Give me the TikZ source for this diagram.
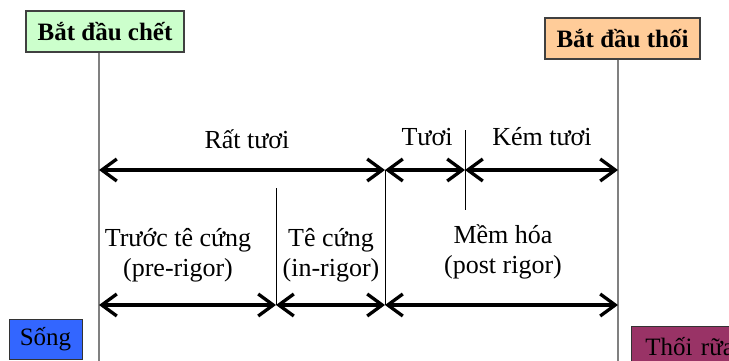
\documentclass[tikz,border=0pt]{standalone}
\usepackage{fontspec}
\setmainfont{Liberation Serif}
\usetikzlibrary{arrows.meta}
\definecolor{xanhnhat}{HTML}{CCFFCC}
\definecolor{camnhat}{HTML}{FFCC99}
\definecolor{xanhduong}{HTML}{3366FF}
\definecolor{tiado}{HTML}{993366}
\begin{document}
\begin{tikzpicture}[x=1pt,y=-1pt,
    mocbox/.style={draw=black!75,line width=1.2pt,inner sep=0pt,minimum height=41pt,
        font=\fontsize{25}{28}\selectfont\bfseries},
    trangthai/.style={draw=black!80,line width=0.8pt,inner sep=0pt,minimum height=40pt,
        font=\fontsize{25}{28}\selectfont},
    nhan/.style={font=\fontsize{26}{30}\selectfont},
    khoang/.style={line width=3.3pt,
        {Straight Barb[length=15pt,width=22pt]}-{Straight Barb[length=15pt,width=22pt]}},
    moc/.style={draw=gray,line width=1.6pt},
    vach/.style={line width=0.8pt}]

    \clip (0,0) rectangle (729,360);

        % cac moc chinh
        \node[mocbox,fill=xanhnhat,minimum width=158pt] (batdauchet) at (105,31.5) {Bắt đầu chết};
        \node[mocbox,fill=camnhat,minimum width=155pt] (batdauthoi) at (622.5,38.5) {Bắt đầu thối};
        \coordinate (chet) at (99,362);
        \coordinate (thoi) at (618,362);
        \draw[moc] (batdauchet.south -| chet) -- (chet);
        \draw[moc] (batdauthoi.south -| thoi) -- (thoi);

        % hang tren
        \coordinate (a1) at (99,170);
        \coordinate (a2) at (385,170);
        \coordinate (a3) at (465,170);
        \coordinate (a4) at (618,170);
        % hang duoi
        \coordinate (b1) at (99,305);
        \coordinate (b2) at (276,305);
        \coordinate (b3) at (385,305);
        \coordinate (b4) at (618,305);
        \coordinate (v1) at (276,188);
        \coordinate (v2) at (465,130);
        \coordinate (v3) at (465,210);

        \draw[vach] (v1) -- (b2);
        \draw[vach] (a2) -- (b3);
        \draw[vach] (v2) -- (v3);

        \draw[khoang] (a1) -- (a2);
        \draw[khoang] (a2) -- (a3);
        \draw[khoang] (a3) -- (a4);
        \draw[khoang] (b1) -- (b2);
        \draw[khoang] (b2) -- (b3);
        \draw[khoang] (b3) -- (b4);

        \node[nhan] (rattuoi) at (247,139) {Rất tươi};
        \node[nhan] (tuoi) at (427,137) {Tươi};
        \node[nhan] (kemtuoi) at (542,137) {Kém tươi};
        \node[nhan,align=center] (truoctecung) at (178,255) {Trước tê cứng\\(pre-rigor)};
        \node[nhan,align=center] (tecung) at (331,255) {Tê cứng\\(in-rigor)};
        \node[nhan,align=center] (memhoa) at (503,252) {Mềm hóa\\(post rigor)};

        % song va thoi rua
        \node[trangthai,fill=xanhduong,minimum width=73pt] (song) at (45.5,339) {Sống};
        \node[trangthai,fill=tiado,minimum width=110pt,anchor=north west,
            inner xsep=14pt,align=left,text width=90pt] (thoirua) at (631,326) {Thối rữa};

\end{tikzpicture}
\end{document}
